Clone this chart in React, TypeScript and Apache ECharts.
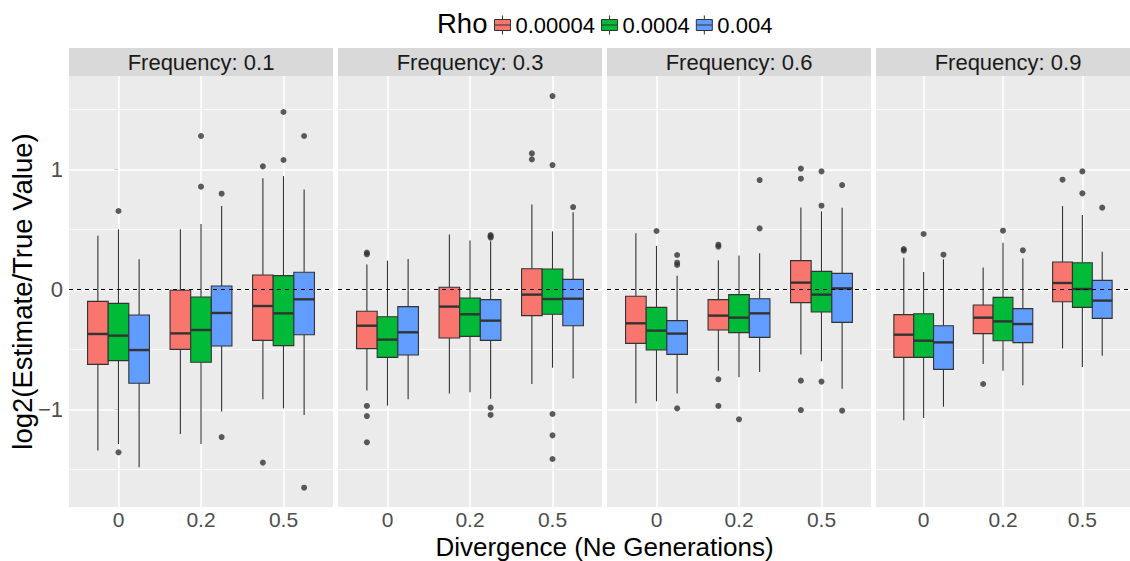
import React, { useEffect, useRef } from "react";
import * as echarts from "echarts";

const facetLabels = ["Frequency: 0.1", "Frequency: 0.3", "Frequency: 0.6", "Frequency: 0.9"];
const divergenceLabels = ["0", "0.2", "0.5"];
const rhoLevels = ["0.00004", "0.0004", "0.004"];
const rhoColors = ["#F8766D", "#00BA38", "#619CFF"];
const yTickValues = [-1, 0, 1];
const yMajorGrid = [-1, 0, 1];
const yMinorGrid = [-1.5, -0.5, 0.5, 1.5];
const xGridValues = [0, 1, 2];

// Box statistics [lower whisker, Q1, median, Q3, upper whisker], facet -> divergence
const boxesRho00004 = [
  [[-1.344, -0.625, -0.372, -0.1, 0.447], [-1.206, -0.5, -0.367, -0.008, 0.5], [-0.917, -0.425, -0.139, 0.119, 0.925]],
  [[-0.844, -0.494, -0.303, -0.183, 0.208], [-0.869, -0.406, -0.144, 0.017, 0.458], [-0.789, -0.219, -0.044, 0.172, 0.708]],
  [[-0.95, -0.45, -0.283, -0.058, 0.467], [-0.678, -0.339, -0.219, -0.086, 0.242], [-0.544, -0.111, 0.056, 0.239, 0.683]],
  [[-1.092, -0.567, -0.378, -0.211, 0.264], [-0.622, -0.369, -0.236, -0.131, 0.183], [-0.492, -0.103, 0.053, 0.228, 0.694]],
];
const boxesRho0004 = [
  [[-1.289, -0.594, -0.386, -0.117, 0.5], [-1.289, -0.608, -0.339, -0.064, 0.544], [-0.992, -0.469, -0.2, 0.114, 0.944]],
  [[-0.969, -0.567, -0.419, -0.228, 0.239], [-0.858, -0.392, -0.208, -0.072, 0.406], [-0.653, -0.208, -0.081, 0.169, 0.483]],
  [[-0.933, -0.506, -0.344, -0.15, 0.361], [-0.733, -0.361, -0.236, -0.044, 0.281], [-0.6, -0.189, -0.044, 0.15, 0.65]],
  [[-1.072, -0.567, -0.428, -0.203, 0.144], [-0.678, -0.428, -0.267, -0.067, 0.389], [-0.647, -0.15, 0.003, 0.222, 0.619]],
];
const boxesRho004 = [
  [[-1.483, -0.783, -0.506, -0.214, 0.25], [-1.019, -0.472, -0.197, 0.028, 0.694], [-1.047, -0.378, -0.083, 0.142, 0.833]],
  [[-0.917, -0.547, -0.358, -0.144, 0.253], [-0.911, -0.425, -0.261, -0.086, 0.4], [-0.744, -0.303, -0.078, 0.083, 0.642]],
  [[-0.869, -0.542, -0.369, -0.261, 0.114], [-0.689, -0.4, -0.2, -0.078, 0.3], [-0.828, -0.275, 0.008, 0.133, 0.681]],
  [[-0.978, -0.667, -0.442, -0.303, 0.25], [-0.8, -0.444, -0.289, -0.161, 0.258], [-0.553, -0.242, -0.094, 0.075, 0.314]],
];

// Outliers, facet -> divergence
const outliersRho00004 = [
  [[], [], [1.025, -1.444]],
  [[0.306, 0.292, -0.972, -1.056, -1.275], [], [1.133, 1.083]],
  [[], [0.372, 0.356, -0.75, -0.972], [1.006, 0.922, -0.761, -1.006]],
  [[0.336, 0.322], [-0.789], [0.914]],
];
const outliersRho0004 = [
  [[0.653, -1.358], [1.278, 0.856], [1.478, 1.078]],
  [[], [], [1.611, 1.036, -1.039, -1.217, -1.414]],
  [[0.486], [-1.083], [0.983, 0.697, -0.769]],
  [[0.461], [0.489], [0.983, 0.8]],
];
const outliersRho004 = [
  [[], [0.797, -1.231], [1.278, -1.653]],
  [[], [0.453, 0.442, 0.431, -0.986, -1.047], [0.686]],
  [[0.286, 0.222, 0.203, -0.992], [0.911, 0.508], [0.869, -1.011]],
  [[0.289], [0.325], [0.681]],
];

const allBoxes = [boxesRho00004, boxesRho0004, boxesRho004];
const allOutliers = [outliersRho00004, outliersRho0004, outliersRho004];

const FONT = "'Liberation Sans', Arial, Helvetica, sans-serif";
const PANEL_LEFT = 69;
const PANEL_STEP = 269;
const PANEL_W = 264;
const PANEL_TOP = 76;
const PANEL_H = 431;
const Y_MIN = -1.814;
const Y_MAX = 1.778;
const DODGE = [-0.25, 0, 0.25];
const BOX_W = 0.25;

function buildOption() {
  const grids: any[] = [];
  const xAxes: any[] = [];
  const yAxes: any[] = [];
  const series: any[] = [];
  const graphics: any[] = [];

  facetLabels.forEach((label, f) => {
    const left = PANEL_LEFT + PANEL_STEP * f;
    grids.push({
      left,
      top: PANEL_TOP,
      width: PANEL_W,
      height: PANEL_H,
      show: true,
      backgroundColor: "#EBEBEB",
      borderWidth: 0,
      containLabel: false,
    });
    xAxes.push({
      type: "value",
      gridIndex: f,
      min: -0.6,
      max: 2.6,
      splitLine: { show: false },
      axisLine: { show: false },
      axisTick: {
        show: true,
        customValues: xGridValues,
        length: 4,
        lineStyle: { color: "#333333", width: 1 },
      },
      axisLabel: {
        show: true,
        customValues: xGridValues,
        formatter: (v: number) => divergenceLabels[Math.round(v)] ?? "",
        fontSize: 21,
        lineHeight: 18,
        color: "#4D4D4D",
        margin: 3,
        fontFamily: FONT,
      },
    });
    yAxes.push({
      type: "value",
      gridIndex: f,
      min: Y_MIN,
      max: Y_MAX,
      splitLine: { show: false },
      axisLine: { show: false },
      axisTick: {
        show: f === 0,
        customValues: yTickValues,
        length: 4,
        lineStyle: { color: "#333333", width: 1 },
      },
      axisLabel: {
        show: f === 0,
        customValues: yTickValues,
        formatter: (v: number) => (v < 0 ? "\u2212" + Math.abs(v) : String(v)),
        fontSize: 22,
        color: "#4D4D4D",
        margin: 6,
        fontFamily: FONT,
      },
    });

    // grid lines
    const gridLineData: any[] = [];
    yMinorGrid.forEach((v) => gridLineData.push({ yAxis: v, lineStyle: { color: "#FFFFFF", width: 0.8, type: "solid" } }));
    yMajorGrid.forEach((v) => gridLineData.push({ yAxis: v, lineStyle: { color: "#FFFFFF", width: 1.5, type: "solid" } }));
    xGridValues.forEach((v) => gridLineData.push({ xAxis: v, lineStyle: { color: "#FFFFFF", width: 1.5, type: "solid" } }));
    series.push({
      type: "line",
      xAxisIndex: f,
      yAxisIndex: f,
      data: [],
      silent: true,
      z: 1,
      markLine: {
        silent: true,
        z: 1,
        symbol: ["none", "none"],
        label: { show: false },
        emphasis: { disabled: true },
        animation: false,
        data: gridLineData,
      },
    });

    rhoLevels.forEach((rho, r) => {
      const boxes = allBoxes[r][f];
      series.push({
        type: "custom",
        name: rho,
        xAxisIndex: f,
        yAxisIndex: f,
        z: 3,
        itemStyle: { color: rhoColors[r], borderColor: "#333333", borderWidth: 1 },
        encode: { x: 0, y: [1, 2, 3, 4, 5] },
        data: boxes.map((b, d) => [d, b[0], b[1], b[2], b[3], b[4]]),
        renderItem: (params: any, api: any) => {
          const cx = api.value(0) + DODGE[r];
          const lo = api.value(1);
          const q1 = api.value(2);
          const med = api.value(3);
          const q3 = api.value(4);
          const hi = api.value(5);
          const pL = api.coord([cx - BOX_W / 2, q3]);
          const pR = api.coord([cx + BOX_W / 2, q1]);
          const pc = api.coord([cx, med]);
          const pLo = api.coord([cx, lo]);
          const pHi = api.coord([cx, hi]);
          const stroke = "#333333";
          return {
            type: "group",
            children: [
              { type: "line", shape: { x1: pc[0], y1: pHi[1], x2: pc[0], y2: pL[1] }, style: { stroke, lineWidth: 1.1 } },
              { type: "line", shape: { x1: pc[0], y1: pR[1], x2: pc[0], y2: pLo[1] }, style: { stroke, lineWidth: 1.1 } },
              {
                type: "rect",
                shape: { x: pL[0], y: pL[1], width: pR[0] - pL[0], height: pR[1] - pL[1] },
                style: { fill: rhoColors[r], stroke, lineWidth: 1.1 },
              },
              { type: "line", shape: { x1: pL[0], y1: pc[1], x2: pR[0], y2: pc[1] }, style: { stroke, lineWidth: 2.4 } },
            ],
          };
        },
      });
      const pts: number[][] = [];
      allOutliers[r][f].forEach((vals, d) => {
        vals.forEach((v) => pts.push([d + DODGE[r], v]));
      });
      series.push({
        type: "scatter",
        xAxisIndex: f,
        yAxisIndex: f,
        z: 4,
        symbol: "circle",
        symbolSize: 6,
        itemStyle: { color: "#333333" },
        silent: true,
        data: pts,
      });
    });

    // dashed reference line at 0
    series.push({
      type: "line",
      xAxisIndex: f,
      yAxisIndex: f,
      data: [],
      silent: true,
      z: 10,
      markLine: {
        silent: true,
        z: 10,
        symbol: ["none", "none"],
        label: { show: false },
        emphasis: { disabled: true },
        animation: false,
        data: [{ yAxis: 0, lineStyle: { color: "#000000", width: 1, type: [4, 4] } }],
      },
    });

    // strip
    graphics.push({
      type: "rect",
      shape: { x: left, y: 48, width: PANEL_W, height: 28 },
      style: { fill: "#D9D9D9" },
      z: 0,
    });
    graphics.push({
      type: "text",
      x: left + PANEL_W / 2,
      y: 62,
      style: {
        text: label,
        fill: "#1A1A1A",
        fontSize: 22,
        lineHeight: 24,
        fontFamily: FONT,
        textAlign: "center",
        textVerticalAlign: "middle",
      },
      z: 1,
    });
  });

  graphics.push({
    type: "text",
    x: 604.5,
    y: 547,
    style: {
      text: "Divergence (Ne Generations)",
      fill: "#000000",
      fontSize: 26,
      lineHeight: 22,
      fontFamily: FONT,
      textAlign: "center",
      textVerticalAlign: "middle",
    },
  });
  graphics.push({
    type: "text",
    x: 22,
    y: 291.5,
    rotation: Math.PI / 2,
    style: {
      text: "log2(Estimate/True Value)",
      fill: "#000000",
      fontSize: 27.5,
      fontFamily: FONT,
      textAlign: "center",
      textVerticalAlign: "middle",
    },
  });

  return {
    animation: false,
    backgroundColor: "#FFFFFF",
    textStyle: { fontFamily: FONT },
    title: {
      text: "Rho",
      left: 437,
      top: 9,
      padding: 0,
      textStyle: { fontSize: 27.5, fontWeight: "normal", color: "#000000", fontFamily: FONT },
    },
    legend: {
      data: rhoLevels,
      left: 494,
      top: 14,
      padding: 0,
      itemWidth: 18,
      itemHeight: 19,
      itemGap: 6,
      icon: "path://M1,4L17,4L17,15L1,15Z M1,9.5L17,9.5 M9,0L9,4 M9,15L9,19",
      itemStyle: { borderColor: "#333333", borderWidth: 1 },
      textStyle: { fontSize: 22, color: "#000000", fontFamily: FONT, padding: [0, 0, 0, -1] },
    },
    grid: grids,
    xAxis: xAxes,
    yAxis: yAxes,
    series,
    graphic: graphics,
  };
}

export default function App() {
  const ref = useRef<HTMLDivElement>(null);
  useEffect(() => {
    if (!ref.current) return;
    const chart = echarts.init(ref.current, undefined, { renderer: "svg" });
    chart.setOption(buildOption() as any);
    return () => chart.dispose();
  }, []);
  return (
    <div
      ref={ref}
      style={{ position: "fixed", left: 0, top: 0, width: 1130, height: 561, background: "#fff" }}
    />
  );
}
